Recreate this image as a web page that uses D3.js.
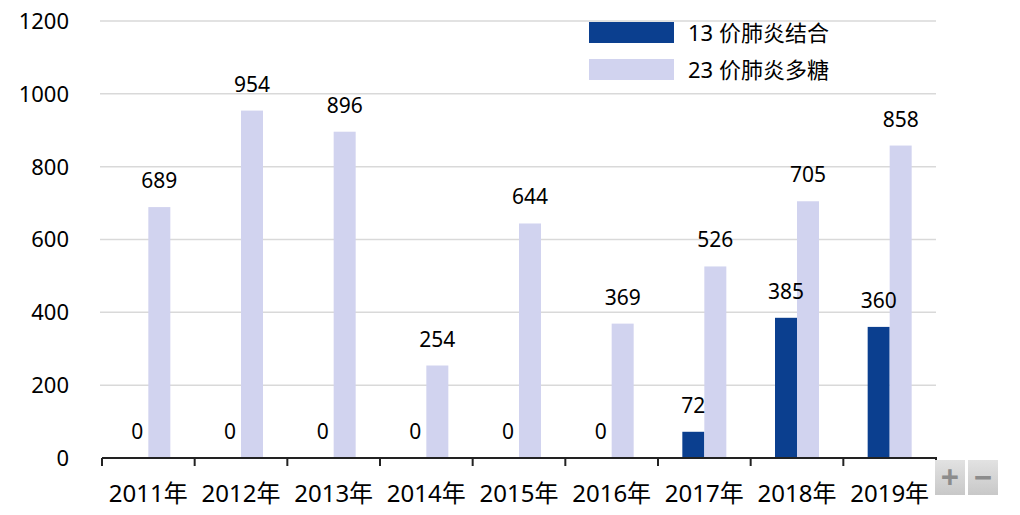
<!DOCTYPE html>
<html lang="zh">
<head>
    <meta charset="UTF-8">
    <title>肺炎疫苗批签发</title>
    <script src="https://cdnjs.cloudflare.com/ajax/libs/d3/7.8.5/d3.min.js"></script>
    <style>
        body {
            margin: 0;
            background: #ffffff;
            font-family: "Noto Sans", "Noto Sans CJK SC", sans-serif;
        }
        svg text { fill: #000; }
    </style>
</head>
<body>
    <svg id="chart" width="1020" height="515"></svg>

    <script>
        // data
        const years = ["2011年", "2012年", "2013年", "2014年", "2015年", "2016年", "2017年", "2018年", "2019年"];
        const seriesNames = ["13 价肺炎结合", "23 价肺炎多糖"];
        const pcv13 = [0, 0, 0, 0, 0, 0, 72, 385, 360];
        const ppv23 = [689, 954, 896, 254, 644, 369, 526, 705, 858];
        const yTicks = [0, 200, 400, 600, 800, 1000, 1200];
        const colors = ["#0b3f8f", "#d1d3ef"];

        const svg = d3.select("#chart");
        const plotLeft = 102, plotRight = 936, plotTop = 21, plotBottom = 458;
        const barW = 22;

        const x = d3.scaleBand().domain(years).range([plotLeft, plotRight]).padding(0);
        const x1 = d3.scaleBand().domain(seriesNames)
            .range([x.bandwidth() / 2 - barW, x.bandwidth() / 2 + barW]);
        const y = d3.scaleLinear().domain([0, 1200]).range([plotBottom, plotTop]);

        // gridlines
        svg.append("g")
            .selectAll("line")
            .data(yTicks.filter(d => d > 0))
            .join("line")
            .attr("x1", plotLeft - 2).attr("x2", plotRight)
            .attr("y1", d => y(d)).attr("y2", d => y(d))
            .attr("stroke", "#d9d9d9")
            .attr("stroke-width", 1.5);

        // y labels
        svg.append("g")
            .selectAll("text")
            .data(yTicks)
            .join("text")
            .attr("x", 69)
            .attr("y", d => y(d))
            .attr("dy", "0.36em")
            .attr("text-anchor", "end")
            .style("font-size", "22px")
            .text(d => d);

        const rows = years.map((yr, i) => ({ year: yr, values: [pcv13[i], ppv23[i]] }));

        const groups = svg.append("g")
            .selectAll("g")
            .data(rows)
            .join("g")
            .attr("transform", d => `translate(${x(d.year)},0)`);

        groups.selectAll("rect")
            .data(d => d.values.map((v, k) => ({ key: seriesNames[k], value: v, k })))
            .join("rect")
            .attr("x", d => x1(d.key))
            .attr("width", x1.bandwidth())
            .attr("y", d => y(d.value))
            .attr("height", d => plotBottom - y(d.value))
            .attr("fill", d => colors[d.k]);

        groups.selectAll("text")
            .data(d => d.values.map((v, k) => ({ key: seriesNames[k], value: v })))
            .join("text")
            .attr("x", d => x1(d.key) + x1.bandwidth() / 2)
            .attr("y", d => y(d.value) - 19)
            .attr("text-anchor", "middle")
            .style("font-size", "21px")
            .text(d => d.value);

        // x axis
        const axis = svg.append("g");
        axis.append("line")
            .attr("x1", plotLeft).attr("x2", plotRight + 1)
            .attr("y1", plotBottom).attr("y2", plotBottom)
            .attr("stroke", "#222").attr("stroke-width", 2);
        axis.selectAll(".tick")
            .data(years.map(d => x(d)).concat([plotRight]))
            .join("line")
            .attr("class", "tick")
            .attr("x1", d => d).attr("x2", d => d)
            .attr("y1", plotBottom).attr("y2", plotBottom + 8)
            .attr("stroke", "#222").attr("stroke-width", 2);
        axis.selectAll("text")
            .data(years)
            .join("text")
            .attr("x", d => x(d) + x.bandwidth() / 2)
            .attr("y", 502)
            .attr("text-anchor", "middle")
            .style("font-size", "24px")
            .text(d => d);

        // legend
        const legend = svg.append("g").attr("transform", "translate(589,22)");
        seriesNames.forEach((name, i) => {
            const g = legend.append("g").attr("transform", `translate(0,${i * 37})`);
            g.append("rect").attr("width", 85).attr("height", 21).attr("fill", colors[i]);
            g.append("text")
                .attr("x", 99).attr("y", 11)
                .attr("dy", "0.36em")
                .style("font-size", "22px")
                .text(name);
        });

        // zoom buttons
        const defs = svg.append("defs");
        const grad = defs.append("linearGradient").attr("id", "btn").attr("x1", 0).attr("y1", 0).attr("x2", 0).attr("y2", 1);
        grad.append("stop").attr("offset", "0%").attr("stop-color", "#e2e2e2");
        grad.append("stop").attr("offset", "100%").attr("stop-color", "#c8c8c8");
        ["+", "−"].forEach((s, i) => {
            const b = svg.append("g").attr("transform", `translate(${935 + i * 33},460)`);
            b.append("rect").attr("width", 30).attr("height", 35).attr("fill", "url(#btn)");
            b.append("text")
                .attr("x", 15).attr("y", 17).attr("dy", "0.36em")
                .attr("text-anchor", "middle")
                .style("font-size", "32px").style("font-weight", "bold")
                .style("fill", "#8c8c8c")
                .text(s);
        });
    </script>
</body>
</html>
